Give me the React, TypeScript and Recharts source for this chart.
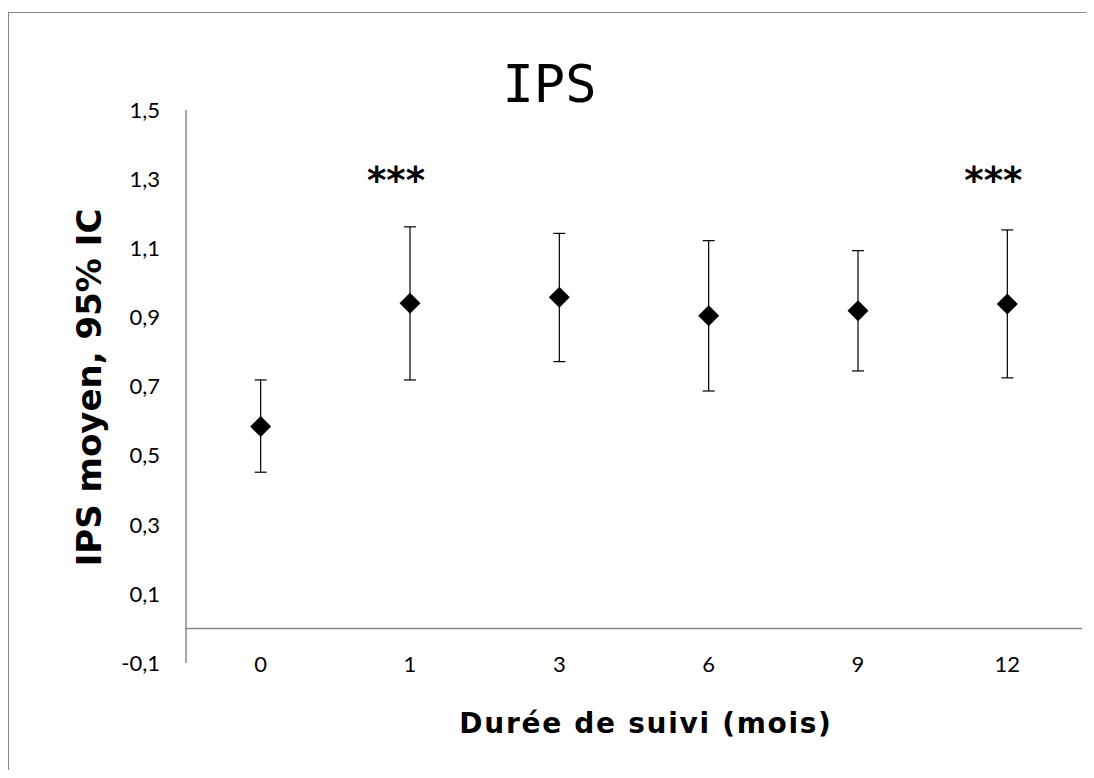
import {
  ComposedChart,
  ErrorBar,
  Line,
  ReferenceLine,
  XAxis,
  YAxis,
} from "recharts";

// follow-up month of each visit
const months = ["0", "1", "3", "6", "9", "12"];
// mean IPS per visit with its 95% confidence interval
const ipsMean = [0.584, 0.941, 0.958, 0.905, 0.919, 0.939];
const ciLow = [0.452, 0.719, 0.772, 0.687, 0.745, 0.725];
const ciHigh = [0.719, 1.162, 1.143, 1.122, 1.093, 1.153];
// visits flagged with *** (p < 0.001 vs baseline)
const significant = [false, true, false, false, false, true];
const starLevel = 1.26;

const yTicks = [-0.1, 0.1, 0.3, 0.5, 0.7, 0.9, 1.1, 1.3, 1.5];

const rows = months.map((m, i) => ({
  month: m,
  mean: ipsMean[i],
  ci: [ipsMean[i] - ciLow[i], ciHigh[i] - ipsMean[i]],
  star: significant[i] ? starLevel : null,
}));

const AXIS_GREY = "#888888";
const TICK_FONT = "Lato, 'Open Sans', sans-serif";
const TITLE_FONT = "'DejaVu Sans', sans-serif";

const Diamond = (props: any) => {
  const { cx, cy, index } = props;
  if (cx == null || cy == null) return <g key={`d-${index}`} />;
  const r = 10.5;
  return (
    <polygon
      key={`d-${index}`}
      points={`${cx},${cy - r} ${cx + r},${cy} ${cx},${cy + r} ${cx - r},${cy}`}
      fill="#000"
    />
  );
};

const Stars = (props: any) => {
  const { cx, cy, index, value } = props;
  if (value == null || cy == null) return <g key={`s-${index}`} />;
  return (
    <text
      key={`s-${index}`}
      x={cx - 14}
      y={cy}
      textAnchor="middle"
      fontFamily={TITLE_FONT}
      fontWeight="bold"
      fontSize={37}
      fill="#000"
    >
      ***
    </text>
  );
};

const MonthTick = (props: any) => {
  const { x, y, payload } = props;
  return (
    <text
      x={x}
      y={y + 9}
      textAnchor="middle"
      fontFamily={TICK_FONT}
      fontSize={22}
      fill="#000"
    >
      {payload.value}
    </text>
  );
};

export default function App() {
  return (
    <div style={{ paddingTop: 4, width: 1078, overflow: "hidden" }}>
      <div
        style={{
          borderTop: `1px solid ${AXIS_GREY}`,
          borderLeft: `1px solid ${AXIS_GREY}`,
          width: 1077,
          height: 757,
          background: "#fff",
        }}
      >
        <ComposedChart
          width={1077}
          height={757}
          data={rows}
          margin={{ top: 97, right: 4, left: 77, bottom: 77 }}
        >
          <XAxis
            dataKey="month"
            type="category"
            scale="band"
            axisLine={false}
            tickLine={false}
            tickSize={0}
            tickMargin={0}
            height={30}
            tick={<MonthTick />}
            interval={0}
          />
          <YAxis
            type="number"
            domain={[-0.1, 1.5]}
            ticks={yTicks}
            width={100}
            axisLine={{ stroke: AXIS_GREY, strokeWidth: 1.5 }}
            tickLine={false}
            tickSize={0}
            tickMargin={26}
            tick={{ fill: "#000", fontSize: 22, fontFamily: TICK_FONT }}
            tickFormatter={(v: number) => v.toFixed(1).replace(".", ",")}
            interval={0}
          />
          <ReferenceLine y={0} stroke={AXIS_GREY} strokeWidth={1.5} />
          <Line
            dataKey="mean"
            stroke="none"
            dot={<Diamond />}
            activeDot={false}
            legendType="none"
            isAnimationActive={false}
          >
            <ErrorBar
              dataKey="ci"
              direction="y"
              width={6}
              stroke="#000"
              strokeWidth={1.2}
              isAnimationActive={false}
            />
          </Line>
          <Line
            dataKey="star"
            stroke="none"
            dot={<Stars />}
            activeDot={false}
            legendType="none"
            isAnimationActive={false}
          />
          <text
            x={540.5}
            y={88.7}
            textAnchor="middle"
            fontFamily="'DejaVu Sans Mono', monospace"
            fontSize={52}
            fill="#000"
          >
            IPS
          </text>
          <text
            x={92}
            y={374.5}
            transform="rotate(-90, 92, 374.5)"
            textAnchor="middle"
            fontFamily={TITLE_FONT}
            fontWeight="bold"
            fontSize={34}
            fill="#000"
          >
            IPS moyen, 95% IC
          </text>
          <text
            x={637}
            y={720}
            textAnchor="middle"
            fontFamily={TITLE_FONT}
            fontWeight="bold"
            fontSize={28}
            letterSpacing={1.7}
            fill="#000"
          >
            Durée de suivi (mois)
          </text>
        </ComposedChart>
      </div>
    </div>
  );
}
